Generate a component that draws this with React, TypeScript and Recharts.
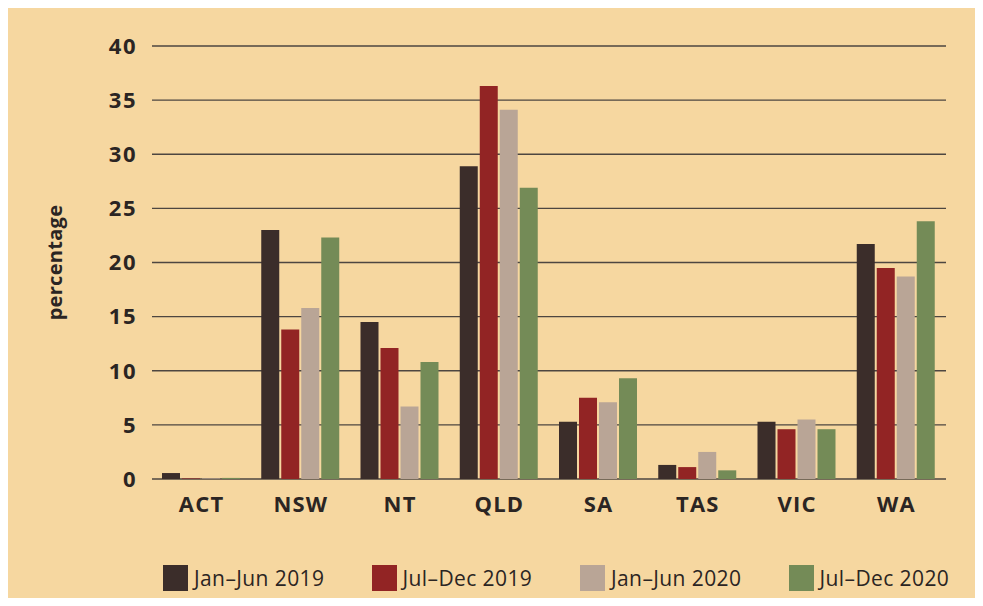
import { BarChart, Bar, XAxis, YAxis, CartesianGrid } from "recharts";

const states = ["ACT", "NSW", "NT", "QLD", "SA", "TAS", "VIC", "WA"];
const janJun2019 = [0.55, 23.0, 14.5, 28.9, 5.3, 1.3, 5.3, 21.7];
const julDec2019 = [0.05, 13.8, 12.1, 36.3, 7.5, 1.1, 4.6, 19.5];
const janJun2020 = [0.05, 15.8, 6.7, 34.1, 7.1, 2.5, 5.5, 18.7];
const julDec2020 = [0.1, 22.3, 10.8, 26.9, 9.3, 0.8, 4.6, 23.8];
const yTicks = [0, 5, 10, 15, 20, 25, 30, 35, 40];

const seriesNames = ["Jan–Jun 2019", "Jul–Dec 2019", "Jan–Jun 2020", "Jul–Dec 2020"];
const seriesKeys = ["a", "b", "c", "d"];
const seriesColors = ["#3b2d2a", "#922424", "#b9a596", "#748b57"];

const BG = "#f6d7a0";
const INK = "#2b2523";
const FONT = "'Open Sans', sans-serif";

const data = states.map((s, i) => ({
  state: s,
  a: janJun2019[i],
  b: julDec2019[i],
  c: janJun2020[i],
  d: julDec2020[i],
}));

export default function App() {
  return (
    <div style={{ position: "relative", width: 967, height: 590, background: BG, fontFamily: FONT }}>
      <BarChart
        width={967}
        height={590}
        data={data}
        margin={{ top: 38, right: 29, left: 0, bottom: 89 }}
        barGap={2}
        barCategoryGap={10}
      >
        <CartesianGrid vertical={false} stroke="#4d4640" strokeWidth={1.3} />
        <XAxis
          dataKey="state"
          axisLine={false}
          tickLine={false}
          tickSize={0}
          tickMargin={17}
          height={30}
          tick={{ fill: INK, fontSize: 22, fontWeight: 700, fontFamily: FONT, letterSpacing: 1.2 }}
        />
        <YAxis
          domain={[0, 40]}
          ticks={yTicks}
          axisLine={false}
          tickLine={false}
          tickSize={0}
          tickMargin={15}
          width={144}
          tick={{ fill: INK, fontSize: 22, fontWeight: 700, fontFamily: FONT, letterSpacing: 1.5 }}
          label={{
            value: "percentage",
            angle: -90,
            position: "insideLeft",
            offset: 47,
            style: { textAnchor: "middle", fill: INK, fontSize: 20, fontWeight: 700, fontFamily: FONT, letterSpacing: 0.3 },
          }}
        />
        {seriesKeys.map((k, i) => (
          <Bar key={k} dataKey={k} name={seriesNames[i]} fill={seriesColors[i]} isAnimationActive={false} />
        ))}
      </BarChart>

      {/* legend */}
      {seriesNames.map((n, i) => (
        <div
          key={n}
          style={{
            position: "absolute",
            left: 155 + i * 208.5,
            top: 556,
            display: "flex",
            alignItems: "center",
            color: INK,
            fontSize: 21,
            letterSpacing: 0.4,
          }}
        >
          <span style={{ display: "inline-block", width: 25, height: 26, background: seriesColors[i], marginRight: 6 }} />
          <span>{n}</span>
        </div>
      ))}
    </div>
  );
}
